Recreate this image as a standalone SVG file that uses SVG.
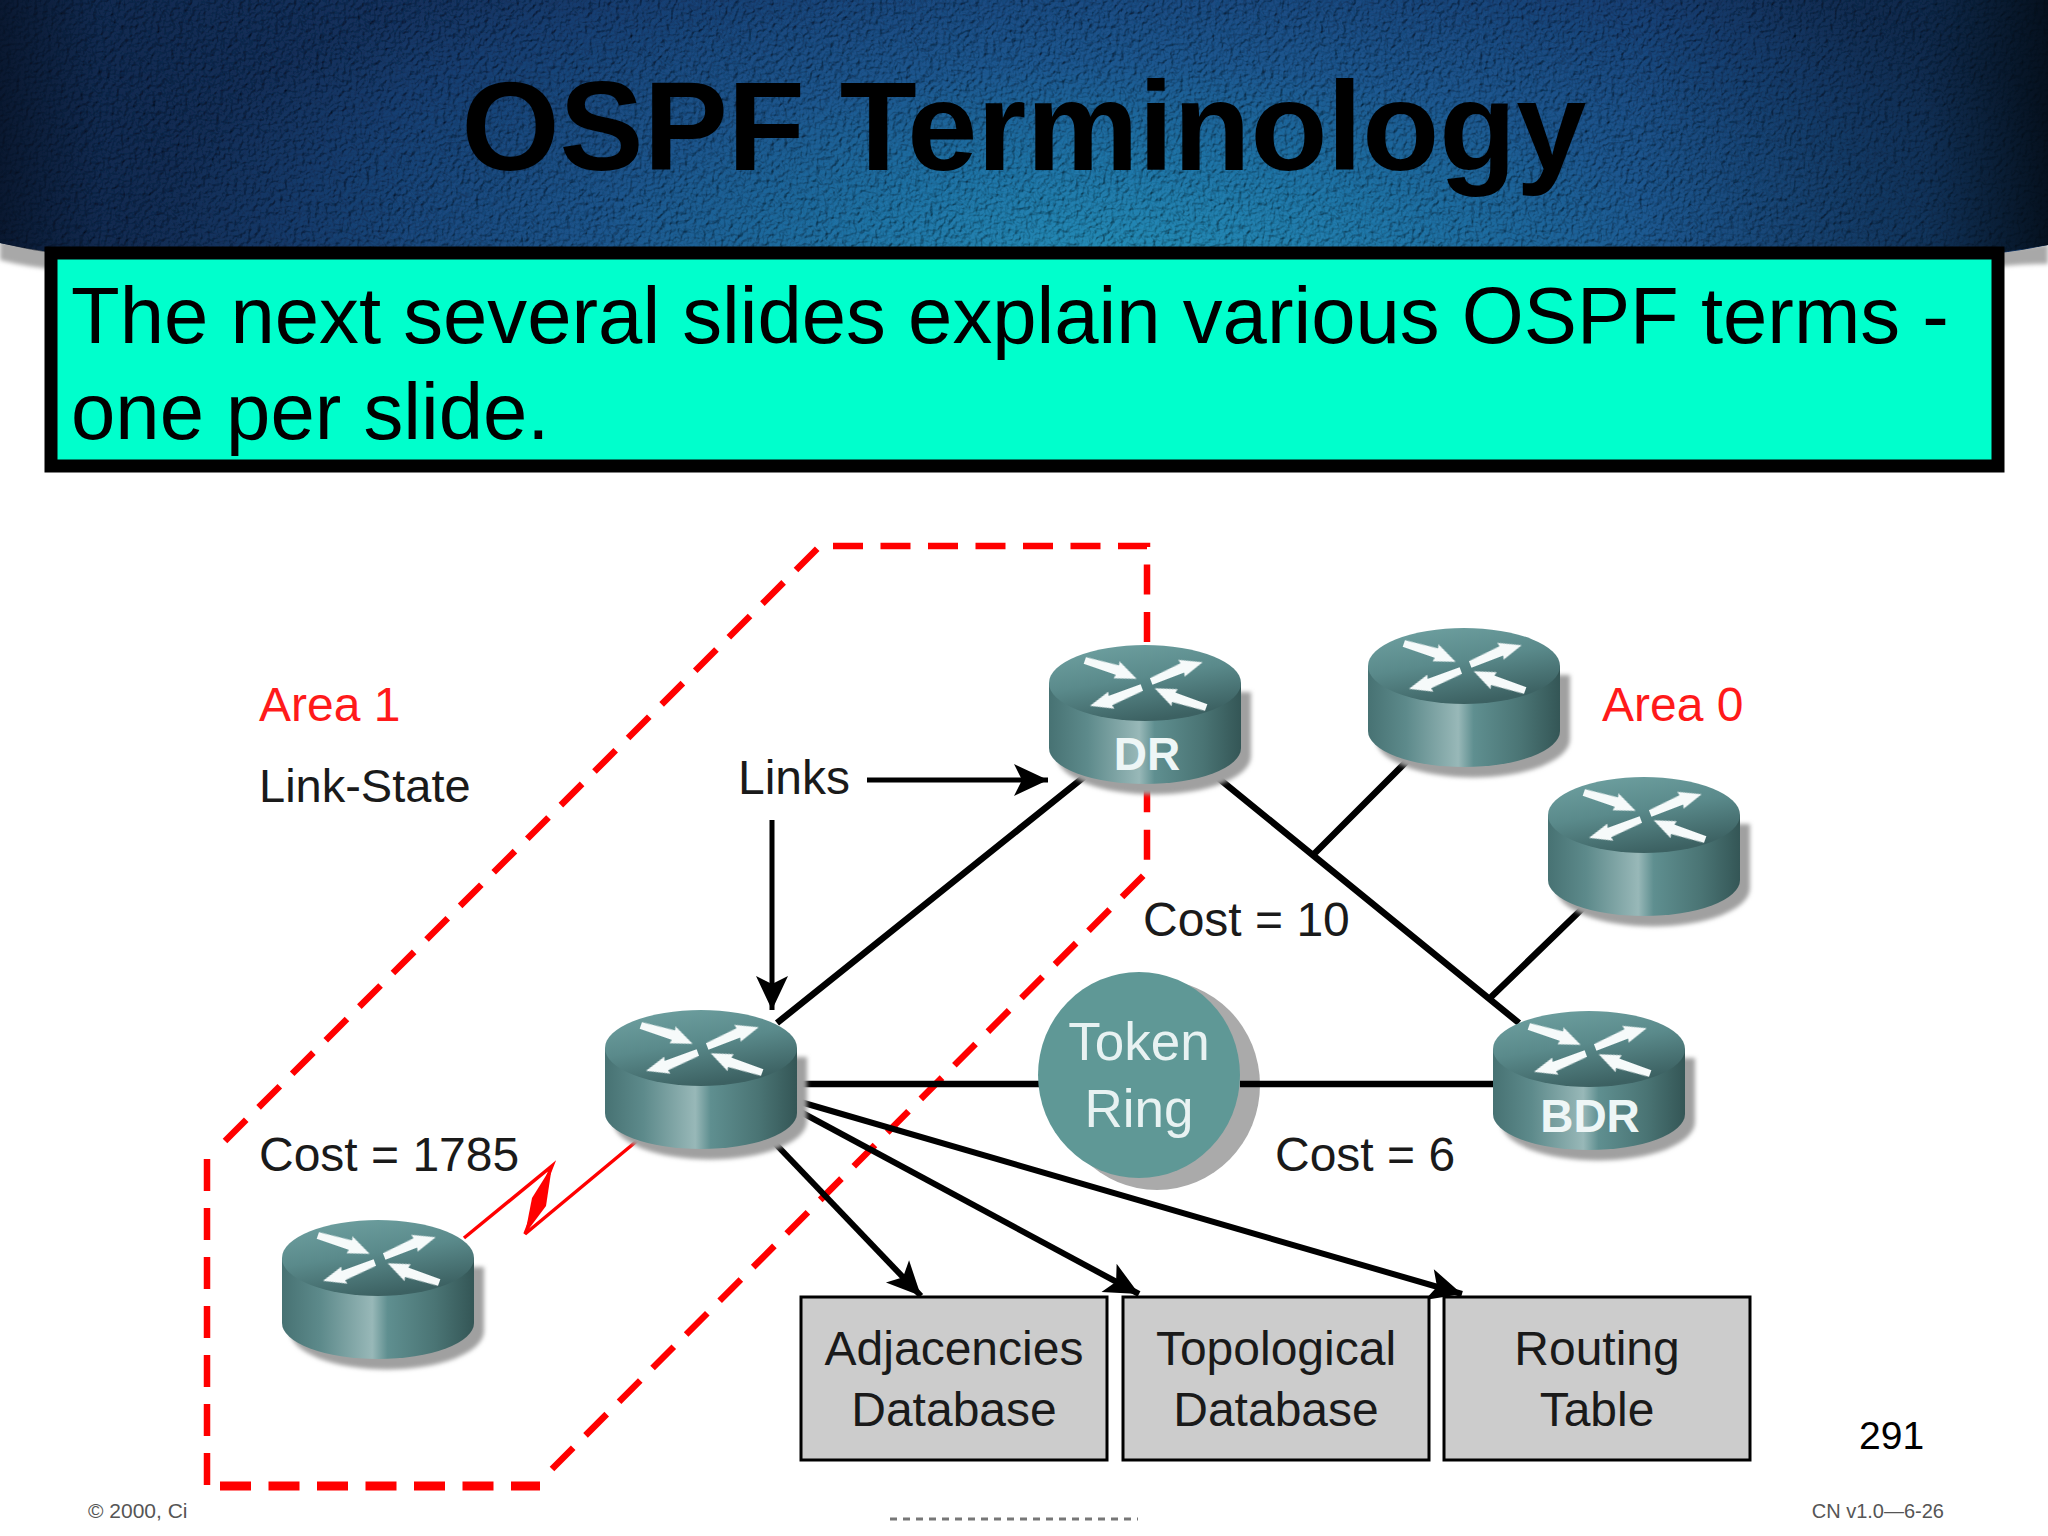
<svg xmlns="http://www.w3.org/2000/svg" width="2048" height="1536" viewBox="0 0 2048 1536">
<style>
text{font-family:"Liberation Sans",Arial,sans-serif}
.lbl{font-size:48px;fill:#1a1a1a}
.red{font-size:48px;fill:#ff1a1a}
.wht{font-size:53px;fill:#e8f2f2;text-anchor:middle}
.rl{font-size:46px;font-weight:bold;fill:#eef6f6;text-anchor:middle}
.db{font-size:48px;fill:#1a1a1a;text-anchor:middle}
.link{stroke:#000;stroke-width:6.5;fill:none}
.arr{stroke:#000;stroke-width:6;fill:none;marker-end:url(#ah)}
.arr2{stroke:#000;stroke-width:5;fill:none;marker-end:url(#ah)}
.box{fill:#ccc;stroke:#000;stroke-width:3}
.area{fill:none;stroke:#f00;stroke-width:6.5;stroke-dasharray:30 17.5}
.foot{font-size:20px;fill:#555}
</style>
<defs>
<radialGradient id="hdr" gradientUnits="userSpaceOnUse" cx="1130" cy="270" r="1000" gradientTransform="matrix(1 0 0 .38 0 167)">
<stop offset="0" stop-color="#2289b0"/><stop offset=".28" stop-color="#1d6f9f"/><stop offset=".55" stop-color="#1a5288"/><stop offset=".85" stop-color="#163d70"/><stop offset="1" stop-color="#12305c"/>
</radialGradient>
<linearGradient id="edge"><stop offset="0" stop-color="#050d1c" stop-opacity=".7"/><stop offset=".05" stop-color="#050d1c" stop-opacity=".25"/><stop offset=".2" stop-color="#050d1c" stop-opacity=".05"/><stop offset=".5" stop-color="#050d1c" stop-opacity="0"/><stop offset=".8" stop-color="#041522" stop-opacity="0"/><stop offset=".94" stop-color="#041522" stop-opacity=".35"/><stop offset="1" stop-color="#020a12" stop-opacity=".85"/></linearGradient>
<linearGradient id="body"><stop offset="0" stop-color="#477273"/><stop offset=".2" stop-color="#5d8a8b"/><stop offset=".47" stop-color="#98b8b8"/><stop offset=".55" stop-color="#5f8f90"/><stop offset=".8" stop-color="#4a7474"/><stop offset="1" stop-color="#345656"/></linearGradient>
<linearGradient id="top" x1=".1" y1="0" x2=".5" y2="1"><stop offset="0" stop-color="#6fa1a1"/><stop offset=".5" stop-color="#5a8a8b"/><stop offset="1" stop-color="#3c6162"/></linearGradient>
<filter id="bl" x="-20%" y="-20%" width="140%" height="140%"><feGaussianBlur stdDeviation="2"/></filter>
<filter id="bs" x="-20%" y="-50%" width="140%" height="200%"><feGaussianBlur stdDeviation=".7"/></filter>
<filter id="tex" x="0" y="0" width="100%" height="100%">
<feTurbulence type="fractalNoise" baseFrequency=".22" numOctaves="3" seed="4" result="n"/>
<feDiffuseLighting in="n" surfaceScale="3" diffuseConstant="1" lighting-color="#fff" result="l"><feDistantLight azimuth="225" elevation="62"/></feDiffuseLighting>
<feComposite in="l" in2="SourceGraphic" operator="arithmetic" k1="1.15" k2="0" k3="0" k4="0"/>
</filter>
<marker id="ah" markerUnits="userSpaceOnUse" markerWidth="38" markerHeight="36" refX="36" refY="18" orient="auto"><path d="M2 2L36 18L2 34L10 18Z" fill="#000"/></marker>
<g id="ra"><polygon points="0,-3 34,-6 33,-10 55,1 33,8 34,4 0,4" fill="#f6fafa" filter="url(#bs)"/></g>
<g id="router">
<path d="M8 46V110A96 38 0 0 0 202 110V46Z" fill="#a0a0a0" filter="url(#bl)"/>
<path d="M0 37V102A96 36 0 0 0 192 102V37Z" fill="url(#body)"/>
<ellipse cx="96" cy="37" rx="96" ry="38" fill="url(#top)"/>
<use href="#ra" transform="translate(36 14) rotate(19)"/>
<use href="#ra" transform="translate(102 35) rotate(-21)"/>
<use href="#ra" transform="translate(93 42) rotate(160)"/>
<use href="#ra" transform="translate(157 62) rotate(200)"/>
</g>
</defs>
<rect width="2048" height="1536" fill="#fff"/>
<g id="header">
<path d="M0 240L60 250V270C40 268 20 265 0 260ZM1990 250L2048 244V264C2020 264 2000 266 1990 268Z" fill="#a8a8a8" filter="url(#bl)"/>
<path d="M0 0H2048V245C1900 275 1500 290 1024 290C500 290 150 275 0 243Z" fill="url(#hdr)" filter="url(#tex)"/>
<rect width="2048" height="262" fill="url(#edge)" style="clip-path:path('M0 0H2048V245C2030 248 2015 250 2004 252H45C30 250 15 246 0 243Z')"/>
<text x="1024" y="170" font-size="126" font-weight="bold" text-anchor="middle" fill="#000">OSPF Terminology</text>
</g>
<g id="callout">
<rect x="51" y="253" width="1947" height="213" fill="#00ffcc" stroke="#000" stroke-width="13"/>
<text x="71" y="343" font-size="79.7" fill="#000">The next several slides explain various OSPF terms -</text>
<text x="71" y="439" font-size="79.7" fill="#000">one per slide.</text>
</g>
<g id="area1">
<path class="area" d="M833 546H1147V648"/>
<path class="area" d="M225 1141L820 546"/>
<path class="area" style="stroke-dasharray:32 17" d="M207 1159V1485"/>
<path class="area" style="stroke-width:9;stroke-dasharray:31 17.5" d="M220 1486H540"/>
<path class="area" d="M552 1469L1147 872V790"/>
</g>
<g id="token-shadow"><ellipse cx="1157" cy="1085" rx="103" ry="105" fill="#aaa"/></g>
<g id="connectors">
<path class="link" d="M1084 777L777 1023M1212 773L1519 1023M1411 757L1313 855M1584 907L1489 999M797 1084H1040M1240 1084H1493"/>
<path class="arr2" d="M867 780H1048"/>
<path class="arr2" d="M772 820V1010"/>
<path class="arr" d="M797 1101L1462 1294"/>
<path class="arr" d="M797 1110L1139 1294"/>
<path class="arr" d="M768 1136L921 1296"/>
<path d="M464 1238L552 1166L525 1234L638 1140" fill="none" stroke="#f00" stroke-width="3.5"/>
<path d="M552 1166L546 1206L525 1234L532 1198Z" fill="#f00"/>
</g>
<g id="r-dr"><use href="#router" transform="translate(1049 646)"/><text class="rl" x="1147" y="770">DR</text></g>
<g id="r-a"><use href="#router" transform="translate(1368 629)"/></g>
<g id="r-b"><use href="#router" transform="translate(1548 778)"/></g>
<g id="r-bdr"><use href="#router" transform="translate(1493 1012)"/><text class="rl" x="1590" y="1132">BDR</text></g>
<g id="r-left"><use href="#router" transform="translate(605 1011)"/></g>
<g id="r-bl"><use href="#router" transform="translate(282 1221)"/></g>
<g id="token">
<ellipse cx="1139" cy="1075" rx="101" ry="103" fill="#5f9896"/>
<text class="wht" x="1139" y="1060">Token</text>
<text class="wht" x="1139" y="1127">Ring</text>
</g>
<g id="db-adj"><rect class="box" x="801" y="1297" width="306" height="163"/><text class="db" x="954" y="1365">Adjacencies</text><text class="db" x="954" y="1426">Database</text></g>
<g id="db-top"><rect class="box" x="1123" y="1297" width="306" height="163"/><text class="db" x="1276" y="1365">Topological</text><text class="db" x="1276" y="1426">Database</text></g>
<g id="db-rt"><rect class="box" x="1444" y="1297" width="306" height="163"/><text class="db" x="1597" y="1365">Routing</text><text class="db" x="1597" y="1426">Table</text></g>
<g id="labels">
<text class="red" x="259" y="721">Area 1</text>
<text class="lbl" x="259" y="802" style="font-size:47px">Link-State</text>
<text class="lbl" x="738" y="794">Links</text>
<text class="red" x="1602" y="721">Area 0</text>
<text class="lbl" x="1143" y="936">Cost = 10</text>
<text class="lbl" x="1275" y="1171">Cost = 6</text>
<text class="lbl" x="259" y="1171">Cost = 1785</text>
<text x="1859" y="1449" font-size="39" fill="#000">291</text>
<text class="foot" x="88" y="1518" style="font-size:21px">© 2000, Ci</text>
<text class="foot" x="1944" y="1518" text-anchor="end">CN v1.0—6-26</text>
</g>
<path id="dots" d="M890 1519H1138" stroke="#777" stroke-width="3" stroke-dasharray="7 6" fill="none"/>
</svg>
